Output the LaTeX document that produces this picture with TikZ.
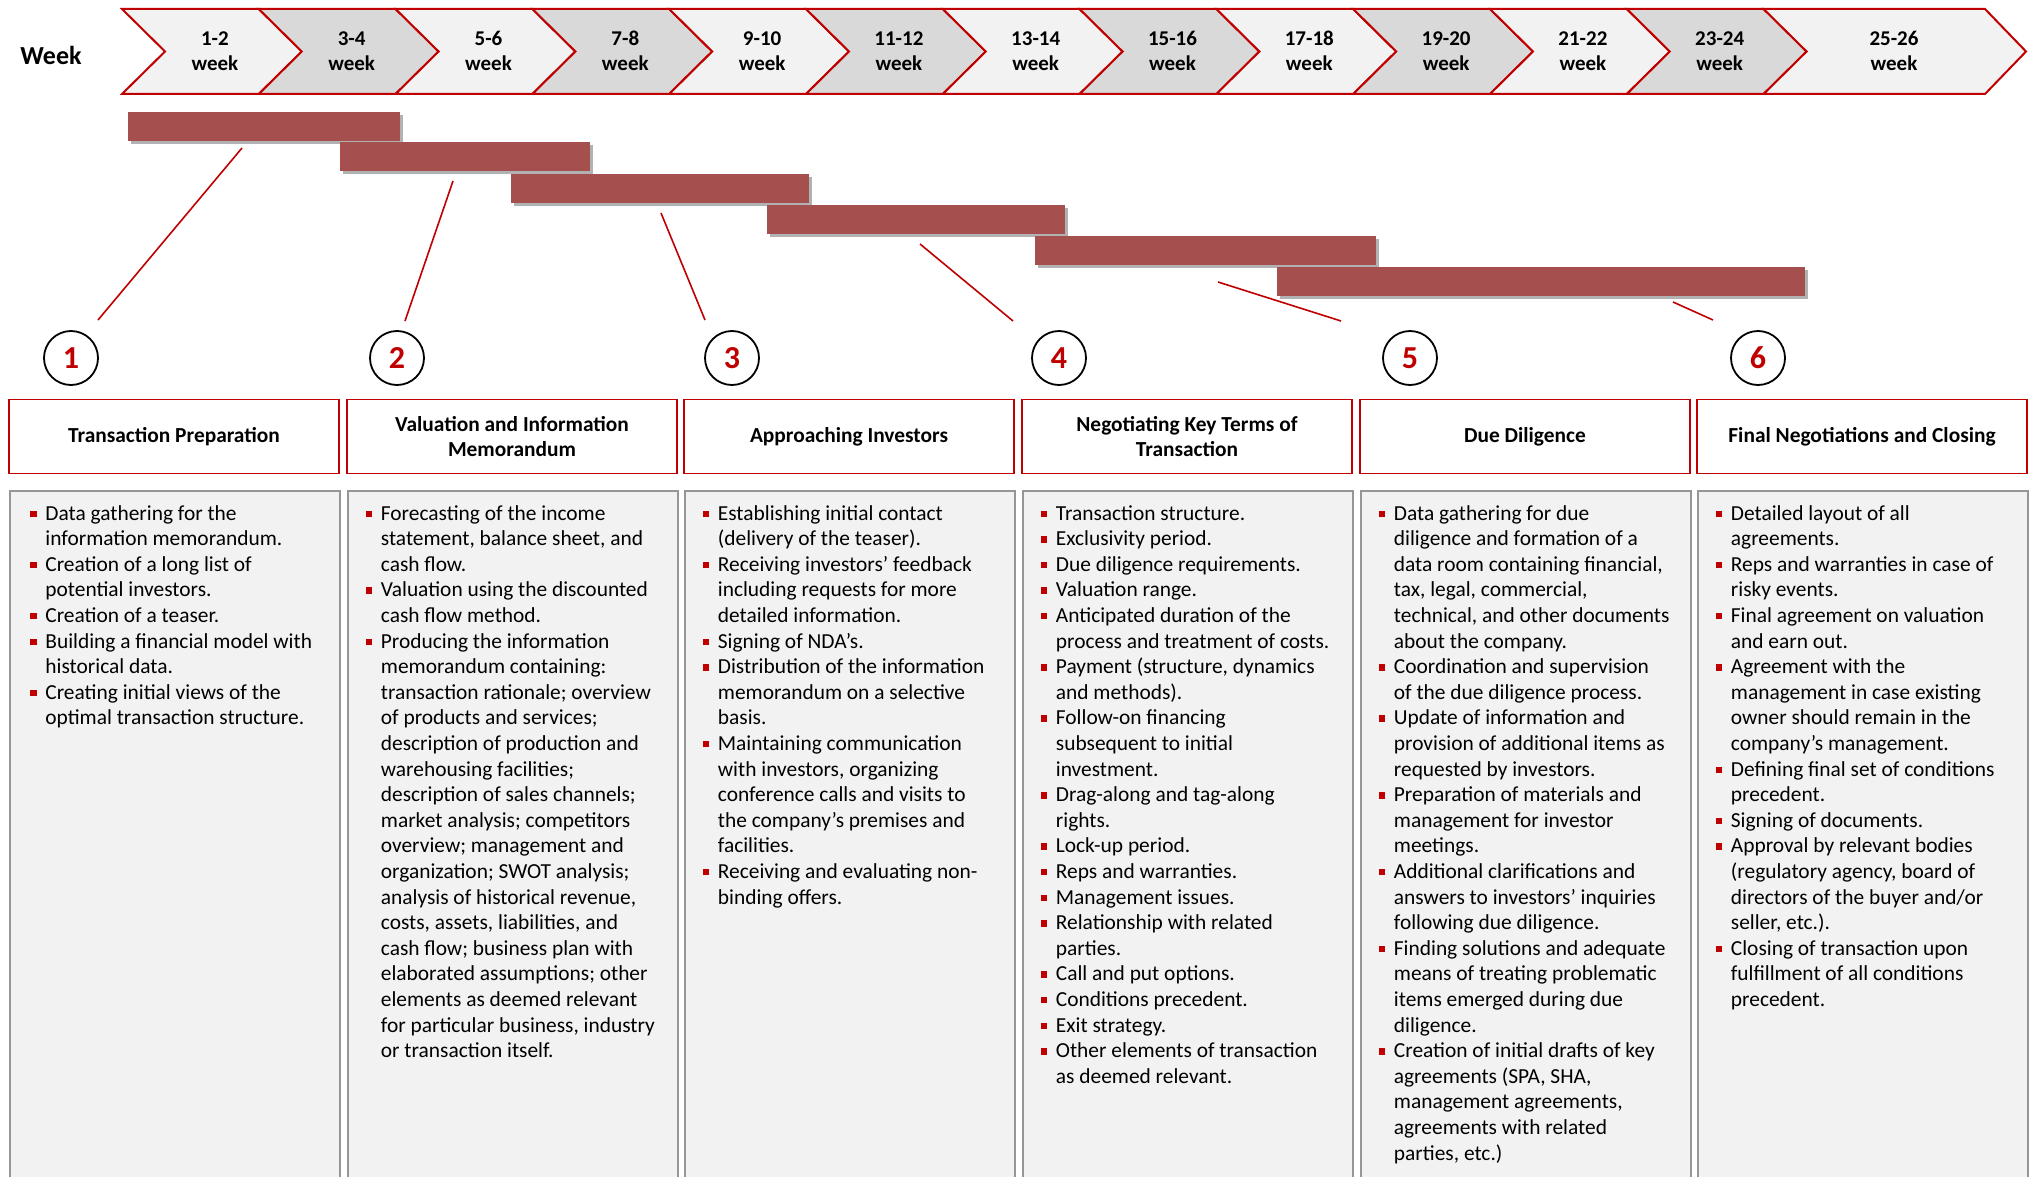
\documentclass[tikz,border=0pt]{standalone}
\usepackage{fontspec}
\setmainfont{Carlito}
\usetikzlibrary{shadows}
\definecolor{bred}{RGB}{192,0,0}
\definecolor{barc}{RGB}{165,79,79}
\definecolor{lgray}{RGB}{242,242,242}
\definecolor{dgray}{RGB}{217,217,217}
\definecolor{bordergray}{RGB}{150,150,150}
\newcommand{\bitem}[1]{\par\hangindent=7.5pt\hangafter=1\noindent\makebox[7.5pt][l]{\textcolor{bred}{\rule[1.5pt]{3.2pt}{3.2pt}}}#1}
\newcommand{\coltext}[1]{\parbox[t]{175pt}{\raggedright\let\\\newline #1}}
\begin{document}
\begin{tikzpicture}[x=0.5pt,y=-0.5pt,
  chev/.style={draw=bred, line width=1pt, line join=miter},
  wk/.style={font=\bfseries\fontsize{10.5pt}{12.5pt}\selectfont, align=center, inner sep=0},
  bar/.style={fill=barc, draw=none, anchor=north west, inner sep=0, minimum height=14.5pt, drop shadow={shadow xshift=1.2pt, shadow yshift=-1.5pt, opacity=0.3, fill=black}},
  conn/.style={draw=bred, line width=0.8pt},
  num/.style={circle, draw=black, line width=0.9pt, minimum size=27pt, inner sep=0, text=bred, font=\bfseries\fontsize{16pt}{16pt}\selectfont},
  hdr/.style={draw=bred, line width=0.6pt, fill=white, minimum width=165pt, minimum height=37pt, inner sep=0, align=center, font=\bfseries\fontsize{10.7pt}{12.6pt}\selectfont},
  cbox/.style={draw=bordergray, line width=0.8pt, fill=lgray, anchor=north west, minimum width=165pt, minimum height=400pt, inner sep=0},
  txt/.style={anchor=base west, inner sep=0, font=\fontsize{10.7pt}{12.8pt}\selectfont}
]
\useasboundingbox (0,0) rectangle (2029,1177);
\clip (0,0) rectangle (2029,1177);
\fill[white] (0,0) rectangle (2029,1177);

% week label
\node[font=\bfseries\fontsize{13pt}{15pt}\selectfont, inner sep=0] (wl) at (51,55) {Week};

% chevrons
\foreach \i/\a in {0/1-2,1/3-4,2/5-6,3/7-8,4/9-10,5/11-12,6/13-14,7/15-16,8/17-18,9/19-20,10/21-22,11/23-24}{
  \pgfmathsetmacro{\L}{122+136.8*\i}
  \pgfmathsetmacro{\R}{\L+136.8}
  \pgfmathsetmacro{\T}{\R+43}
  \pgfmathsetmacro{\N}{\L+43}
  \pgfmathsetmacro{\C}{(\N+\R)/2+3}
  \ifodd\i \def\cc{dgray}\else\def\cc{lgray}\fi
  \filldraw[chev, fill=\cc] (\L,9) -- (\R,9) -- (\T,51.5) -- (\R,94) -- (\L,94) -- (\N,51.5) -- cycle;
  \node[wk] (w\i) at (\C,51) {\a\\week};
}
\filldraw[chev, fill=lgray] (1763.6,9) -- (1985,9) -- (2026,51.5) -- (1985,94) -- (1763.6,94) -- (1806.6,51.5) -- cycle;
\node[wk] (w12) at (1894,51) {25-26\\week};

% connector ends
\coordinate (s1) at (242,148); \coordinate (e1) at (98,320);
\coordinate (s2) at (453,181); \coordinate (e2) at (405,321);
\coordinate (s3) at (661,213); \coordinate (e3) at (705,320);
\coordinate (s4) at (920,244); \coordinate (e4) at (1013,321);
\coordinate (s5) at (1218,282); \coordinate (e5) at (1341,321);
\coordinate (s6) at (1673,302); \coordinate (e6) at (1713,320);
\foreach \k in {1,...,6}{\draw[conn] (s\k) -- (e\k);}

% bars
\node[bar, minimum width=136pt] (b1) at (128,112) {};
\node[bar, minimum width=125pt] (b2) at (340,142) {};
\node[bar, minimum width=149pt] (b3) at (511,174) {};
\node[bar, minimum width=149pt] (b4) at (767,205) {};
\node[bar, minimum width=170.5pt] (b5) at (1035,236) {};
\node[bar, minimum width=264pt] (b6) at (1277,267) {};

% circles
\node[num] (n1) at (71,358) {1};
\node[num] (n2) at (397,358) {2};
\node[num] (n3) at (732,358) {3};
\node[num] (n4) at (1059,358) {4};
\node[num] (n5) at (1410,358) {5};
\node[num] (n6) at (1758,358) {6};

% headers
\node[hdr] (h1) at (174,436.5) {Transaction Preparation};
\node[hdr] (h2) at (512,436.5) {Valuation and Information\\Memorandum};
\node[hdr] (h3) at (849,436.5) {Approaching Investors};
\node[hdr] (h4) at (1187,436.5) {Negotiating Key Terms of\\Transaction};
\node[hdr] (h5) at (1525,436.5) {Due Diligence};
\node[hdr] (h6) at (1862,436.5) {Final Negotiations and Closing};

% content boxes
\node[cbox] (k1) at (9,490) {};
\node[cbox] (k2) at (347,490) {};
\node[cbox] (k3) at (684,490) {};
\node[cbox] (k4) at (1022,490) {};
\node[cbox] (k5) at (1360,490) {};
\node[cbox] (k6) at (1697,490) {};

\node[txt] (t1) at (30,520) {\coltext{%
\bitem{Data gathering for the\\information memorandum.}%
\bitem{Creation of a long list of\\potential investors.}%
\bitem{Creation of a teaser.}%
\bitem{Building a financial model with\\historical data.}%
\bitem{Creating initial views of the\\optimal transaction structure.}}};

\node[txt] (t2) at (365.5,520) {\coltext{%
\bitem{Forecasting of the income\\statement, balance sheet, and\\cash flow.}%
\bitem{Valuation using the discounted\\cash flow method.}%
\bitem{Producing the information\\memorandum containing:\\transaction rationale; overview\\of products and services;\\description of production and\\warehousing facilities;\\description of sales channels;\\market analysis; competitors\\overview; management and\\organization; SWOT analysis;\\analysis of historical revenue,\\costs, assets, liabilities, and\\cash flow; business plan with\\elaborated assumptions; other\\elements as deemed relevant\\for particular business, industry\\or transaction itself.}}};

\node[txt] (t3) at (702.5,520) {\coltext{%
\bitem{Establishing initial contact\\(delivery of the teaser).}%
\bitem{Receiving investors’ feedback\\including requests for more\\detailed information.}%
\bitem{Signing of NDA’s.}%
\bitem{Distribution of the information\\memorandum on a selective\\basis.}%
\bitem{Maintaining communication\\with investors, organizing\\conference calls and visits to\\the company’s premises and\\facilities.}%
\bitem{Receiving and evaluating non-\\binding offers.}}};

\node[txt] (t4) at (1040.5,520) {\coltext{%
\bitem{Transaction structure.}%
\bitem{Exclusivity period.}%
\bitem{Due diligence requirements.}%
\bitem{Valuation range.}%
\bitem{Anticipated duration of the\\process and treatment of costs.}%
\bitem{Payment (structure, dynamics\\and methods).}%
\bitem{Follow-on financing\\subsequent to initial\\investment.}%
\bitem{Drag-along and tag-along\\rights.}%
\bitem{Lock-up period.}%
\bitem{Reps and warranties.}%
\bitem{Management issues.}%
\bitem{Relationship with related\\parties.}%
\bitem{Call and put options.}%
\bitem{Conditions precedent.}%
\bitem{Exit strategy.}%
\bitem{Other elements of transaction\\as deemed relevant.}}};

\node[txt] (t5) at (1378.5,520) {\coltext{%
\bitem{Data gathering for due\\diligence and formation of a\\data room containing financial,\\tax, legal, commercial,\\technical, and other documents\\about the company.}%
\bitem{Coordination and supervision\\of the due diligence process.}%
\bitem{Update of information and\\provision of additional items as\\requested by investors.}%
\bitem{Preparation of materials and\\management for investor\\meetings.}%
\bitem{Additional clarifications and\\answers to investors’ inquiries\\following due diligence.}%
\bitem{Finding solutions and adequate\\means of treating problematic\\items emerged during due\\diligence.}%
\bitem{Creation of initial drafts of key\\agreements (SPA, SHA,\\management agreements,\\agreements with related\\parties, etc.)}}};

\node[txt] (t6) at (1715.5,520) {\coltext{%
\bitem{Detailed layout of all\\agreements.}%
\bitem{Reps and warranties in case of\\risky events.}%
\bitem{Final agreement on valuation\\and earn out.}%
\bitem{Agreement with the\\management in case existing\\owner should remain in the\\company’s management.}%
\bitem{Defining final set of conditions\\precedent.}%
\bitem{Signing of documents.}%
\bitem{Approval by relevant bodies\\(regulatory agency, board of\\directors of the buyer and/or\\seller, etc.).}%
\bitem{Closing of transaction upon\\fulfillment of all conditions\\precedent.}}};
\end{tikzpicture}
\end{document}
